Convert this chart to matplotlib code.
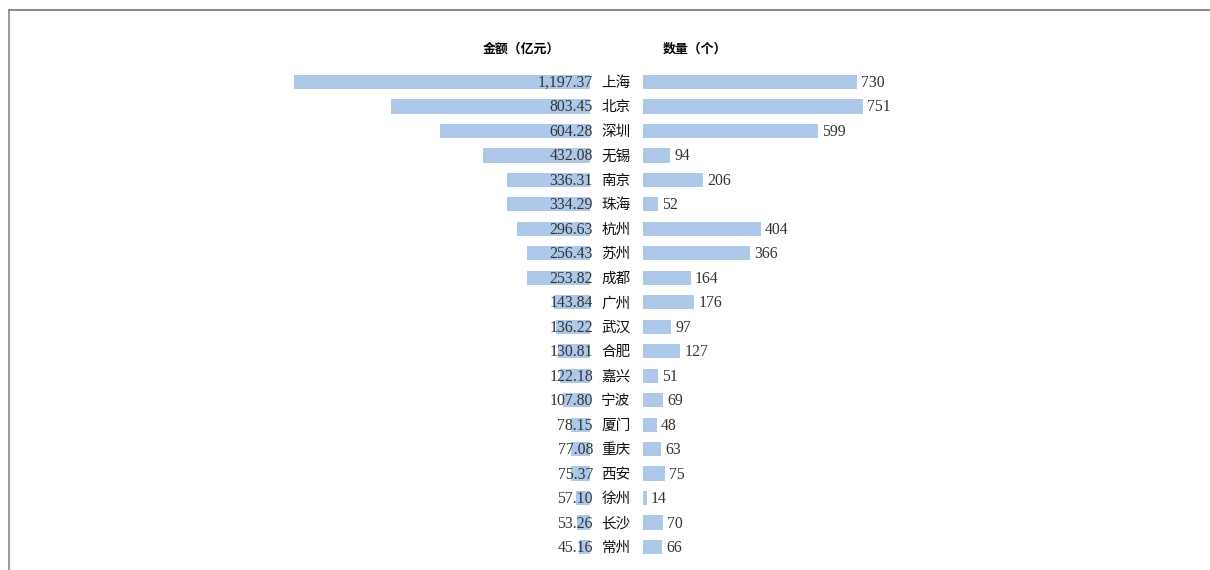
import matplotlib
matplotlib.use("Agg")
import matplotlib.pyplot as plt
from matplotlib.lines import Line2D

cities = ["上海", "北京", "深圳", "无锡", "南京", "珠海", "杭州", "苏州", "成都", "广州",
          "武汉", "合肥", "嘉兴", "宁波", "厦门", "重庆", "西安", "徐州", "长沙", "常州"]
amount = [1197.37, 803.45, 604.28, 432.08, 336.31, 334.29, 296.63, 256.43, 253.82, 143.84,
          136.22, 130.81, 122.18, 107.80, 78.15, 77.08, 75.37, 57.10, 53.26, 45.16]
count = [730, 751, 599, 94, 206, 52, 404, 366, 164, 176,
         97, 127, 51, 69, 48, 63, 75, 14, 70, 66]
title_left = "金额（亿元）"
title_right = "数量（个）"

W, H = 1210, 570
fig = plt.figure(figsize=(W / 100, H / 100), dpi=100)
bar_color = "#aec8e9"
num_font = ["Liberation Serif", "Noto Sans CJK SC"]
cjk_font = ["Noto Sans CJK SC", "DejaVu Sans"]

n = len(cities)
row_top, row_bot = 82, 547
step = (row_bot - row_top) / (n - 1)
ax_top = row_top - step / 2
ax_bot = row_bot + step / 2
b = (H - ax_bot) / H
h = (ax_bot - ax_top) / H

# left axis: zero at pixel 590, 0.2475 px per unit
lx0, lx1 = 250, 590
axL = fig.add_axes([lx0 / W, b, (lx1 - lx0) / W, h])
axL.set_xlim(-(lx1 - lx0) / 0.2475, 0)
# right axis: zero at pixel 643, 0.2925 px per unit
rx0, rx1 = 643, 1043
axR = fig.add_axes([rx0 / W, b, (rx1 - rx0) / W, h])
axR.set_xlim(0, (rx1 - rx0) / 0.2925)

ys = list(range(n))
axL.barh(ys, [-v for v in amount], height=0.58, color=bar_color)
axR.barh(ys, count, height=0.58, color=bar_color)
for ax in (axL, axR):
    ax.set_ylim(n - 0.5, -0.5)
    ax.axis("off")

for y, v in zip(ys, amount):
    axL.annotate(f"{v:,.2f}", (0, y), xytext=(3, -1), textcoords="offset pixels",
                 ha="right", va="center", fontsize=11.3, family=num_font, color="#333333")
for y, v in zip(ys, count):
    axR.annotate(f"{v}", (v, y), xytext=(4, -1), textcoords="offset pixels",
                 ha="left", va="center", fontsize=11.3, family=num_font, color="#333333")
for y, c in zip(ys, cities):
    axL.annotate(c, (0, y), xytext=(616 - 590, -1), textcoords="offset pixels",
                 ha="center", va="center", fontsize=10.5, family=cjk_font, color="#111111")

fig.text(521 / W, 1 - 49 / H, title_left, ha="center", va="center", fontsize=9.3,
         fontweight="bold", family=cjk_font)
fig.text(695 / W, 1 - 49 / H, title_right, ha="center", va="center", fontsize=9.3,
         fontweight="bold", family=cjk_font)

# frame lines (top and left)
fig.add_artist(Line2D([9 / W, 1], [1 - 10 / H, 1 - 10 / H], color="#777777", lw=1.2))
fig.add_artist(Line2D([9 / W, 9 / W], [0, 1 - 10 / H], color="#888888", lw=1.2))

fig.savefig("out.png", dpi=100)
